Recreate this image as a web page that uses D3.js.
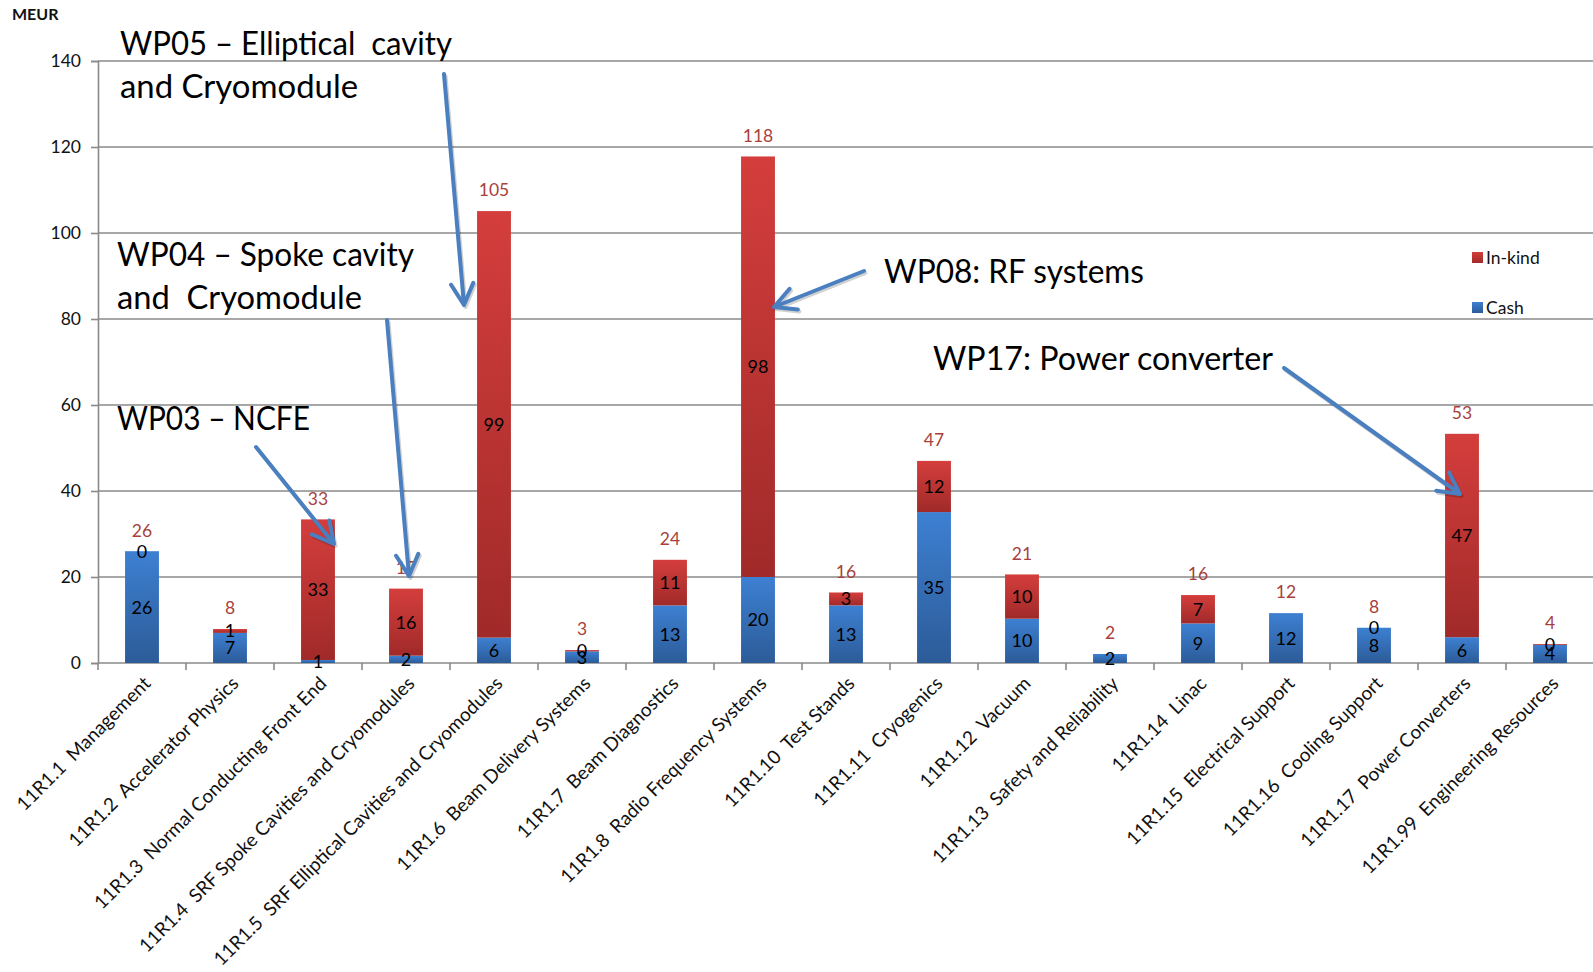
<!DOCTYPE html>
<html>
<head>
<meta charset="utf-8">
<script src="https://cdn.jsdelivr.net/npm/d3@7"></script>
<style>
  html, body { margin: 0; padding: 0; background: #ffffff; }
  svg { display: block; }
  text { font-family: Lato, "Open Sans", "DejaVu Sans", sans-serif; }
</style>
</head>
<body>
<svg id="chart" width="1593" height="972"></svg>
<script>
// ---------- data ----------
const categories = [
  "11R1.1  Management",
  "11R1.2  Accelerator Physics",
  "11R1.3  Normal Conducting Front End",
  "11R1.4  SRF Spoke Cavities and Cryomodules",
  "11R1.5  SRF Elliptical Cavities and Cryomodules",
  "11R1.6  Beam Delivery Systems",
  "11R1.7  Beam Diagnostics",
  "11R1.8  Radio Frequency Systems",
  "11R1.10  Test Stands",
  "11R1.11  Cryogenics",
  "11R1.12  Vacuum",
  "11R1.13  Safety and Reliability",
  "11R1.14  Linac",
  "11R1.15  Electrical Support",
  "11R1.16  Cooling Support",
  "11R1.17  Power Converters",
  "11R1.99  Engineering Resources"
];
const cash   = [26, 7, 0.7, 1.7, 5.9, 2.7, 13.4, 20, 13.4, 35.1, 10.3, 2.1, 9.2, 11.6, 8.2, 6.0, 4.2];
const inKind = [0, 0.9, 32.7, 15.6, 99.2, 0.3, 10.6, 97.8, 3.0, 11.9, 10.3, null, 6.6, null, 0, 47.3, 0.2];
const yTicks = [0, 20, 40, 60, 80, 100, 120, 140];
const seriesNames = ["In-kind", "Cash"];
const unitLabel = "MEUR";

const callouts = [
  { lines: ["WP05 \u2013 Elliptical  cavity", "and Cryomodule"], x: 120, y: 55, widths: [332, 238], arrow: [[444, 74], [464, 305]] },
  { lines: ["WP04 \u2013 Spoke cavity", "and  Cryomodule"], x: 117, y: 266, widths: [297, 245], arrow: [[387, 320], [409, 576]] },
  { lines: ["WP03 \u2013 NCFE"], x: 117, y: 430, widths: [193], arrow: [[256, 447], [334, 544]] },
  { lines: ["WP08: RF systems"], x: 884, y: 283, widths: [260], arrow: [[864, 271], [774, 307]] },
  { lines: ["WP17: Power converter"], x: 933, y: 370, widths: [340], arrow: [[1284, 368], [1460, 494]] }
];

// ---------- layout ----------
const W = 1593, H = 972;
const plot = { left: 98, right: 1594, top: 61, bottom: 663 };
const svg = d3.select("#chart");

const x = d3.scaleBand().domain(categories).range([plot.left, plot.right])
  .paddingInner(0.615).paddingOuter(0.3075);
const y = d3.scaleLinear().domain([0, 140]).range([plot.bottom, plot.top]);

const fmt = v => String(Math.round(v));

// gradients
const defs = svg.append("defs");
function grad(id, top, bottom) {
  const g = defs.append("linearGradient").attr("id", id)
    .attr("x1", 0).attr("y1", 0).attr("x2", 0).attr("y2", 1);
  g.append("stop").attr("offset", "0%").attr("stop-color", top);
  g.append("stop").attr("offset", "100%").attr("stop-color", bottom);
}
grad("gCash", "#3d80d2", "#2c5b98");
grad("gKind", "#d43e3c", "#a02a29");

// gridlines
svg.append("g").selectAll("line").data(yTicks).join("line")
  .attr("x1", plot.left).attr("x2", W)
  .attr("y1", d => y(d)).attr("y2", d => y(d))
  .attr("stroke", "#8a8a8a").attr("stroke-width", 1.6);

// y axis
const yAxis = svg.append("g").attr("transform", `translate(${plot.left},0)`)
  .call(d3.axisLeft(y).tickValues(yTicks).tickSize(7).tickPadding(10));
yAxis.select(".domain").attr("stroke", "#8a8a8a").attr("stroke-width", 1.6);
yAxis.selectAll(".tick line").attr("stroke", "#8a8a8a").attr("stroke-width", 1.6);
yAxis.selectAll(".tick text").attr("font-size", 17.5).attr("fill", "#111")
  .attr("font-family", "Lato, sans-serif");

// x ticks at band boundaries
const step = x.step();
const x0 = x.range()[0];
svg.append("g").selectAll("line").data(d3.range(categories.length + 1)).join("line")
  .attr("x1", i => x0 + i * step).attr("x2", i => x0 + i * step)
  .attr("y1", plot.bottom).attr("y2", plot.bottom + 7)
  .attr("stroke", "#8a8a8a").attr("stroke-width", 1.6);

// bars
const rows = categories.map((c, i) => ({ c, cash: cash[i], kind: inKind[i] }));
const bars = svg.append("g");
bars.selectAll("rect.cash").data(rows).join("rect").attr("class", "cash")
  .attr("x", d => x(d.c)).attr("width", x.bandwidth())
  .attr("y", d => y(d.cash)).attr("height", d => y(0) - y(d.cash))
  .attr("fill", "url(#gCash)");
bars.selectAll("rect.kind").data(rows.filter(d => d.kind)).join("rect").attr("class", "kind")
  .attr("x", d => x(d.c)).attr("width", x.bandwidth())
  .attr("y", d => y(d.cash + d.kind)).attr("height", d => y(d.cash) - y(d.cash + d.kind))
  .attr("fill", "url(#gKind)");

// segment labels
const lab = svg.append("g").attr("font-size", 18).attr("text-anchor", "middle").attr("fill", "#000");
lab.selectAll("text.lc").data(rows).join("text").attr("class", "lc")
  .attr("x", d => x(d.c) + x.bandwidth() / 2)
  .attr("y", d => (y(0) + y(d.cash)) / 2).attr("dy", "0.36em")
  .text(d => fmt(d.cash));
lab.selectAll("text.lk").data(rows.filter(d => d.kind !== null)).join("text").attr("class", "lk")
  .attr("x", d => x(d.c) + x.bandwidth() / 2)
  .attr("y", d => (y(d.cash) + y(d.cash + d.kind)) / 2).attr("dy", "0.36em")
  .text(d => fmt(d.kind));
// totals
lab.selectAll("text.lt").data(rows).join("text").attr("class", "lt")
  .attr("x", d => x(d.c) + x.bandwidth() / 2)
  .attr("y", d => y(d.cash + (d.kind || 0)) - 21).attr("dy", "0.36em")
  .attr("font-size", 17.5)
  .attr("fill", "#a83f3d")
  .text(d => fmt(d.cash + (d.kind || 0)));

// category labels
svg.append("g").selectAll("text").data(categories).join("text")
  .attr("transform", d => `translate(${x(d) + x.bandwidth() / 2 + 5},${plot.bottom + 17}) rotate(-45)`)
  .attr("text-anchor", "end").attr("dy", "0.35em")
  .attr("font-size", 19).attr("fill", "#111")
  .style("white-space", "pre")
  .text(d => d);

// legend
const legend = svg.append("g").attr("font-size", 17.5).attr("fill", "#111");
[["gKind", 258], ["gCash", 308]].forEach(([g, yy], i) => {
  legend.append("rect").attr("x", 1472).attr("y", yy - 6).attr("width", 11).attr("height", 11)
    .attr("fill", `url(#${g})`);
  legend.append("text").attr("x", 1486).attr("y", yy).attr("dy", "0.35em").text(seriesNames[i]);
});

// unit label
svg.append("text").attr("x", 12).attr("y", 20).attr("font-size", 16)
  .attr("font-weight", "bold").attr("fill", "#111").text(unitLabel);

// callouts
const ann = svg.append("g");
const arrowColor = "#4a7fc0";
callouts.forEach(co => {
  co.lines.forEach((ln, i) => {
    ann.append("text").attr("x", co.x).attr("y", co.y + i * 42.5)
      .attr("font-size", 32).attr("fill", "#000")
      .attr("textLength", co.widths[i]).attr("lengthAdjust", "spacingAndGlyphs")
      .style("white-space", "pre")
      .text(ln);
  });
  const [[ax, ay], [bx, by]] = co.arrow;
  const ang = Math.atan2(by - ay, bx - ax);
  const hl = 24, spread = Math.PI / 6.5;
  const p1 = [bx - hl * Math.cos(ang - spread), by - hl * Math.sin(ang - spread)];
  const p2 = [bx - hl * Math.cos(ang + spread), by - hl * Math.sin(ang + spread)];
  const path = `M${ax},${ay}L${bx},${by}M${p1[0]},${p1[1]}L${bx},${by}L${p2[0]},${p2[1]}`;
  ann.append("path").attr("d", path).attr("fill", "none")
    .attr("stroke", "rgba(0,0,0,0.18)").attr("stroke-width", 4)
    .attr("transform", "translate(1.5,2)").attr("stroke-linecap", "round").attr("stroke-linejoin", "round");
  ann.append("path").attr("d", path).attr("fill", "none")
    .attr("stroke", arrowColor).attr("stroke-width", 4)
    .attr("stroke-linecap", "round").attr("stroke-linejoin", "round");
});
</script>
</body>
</html>
